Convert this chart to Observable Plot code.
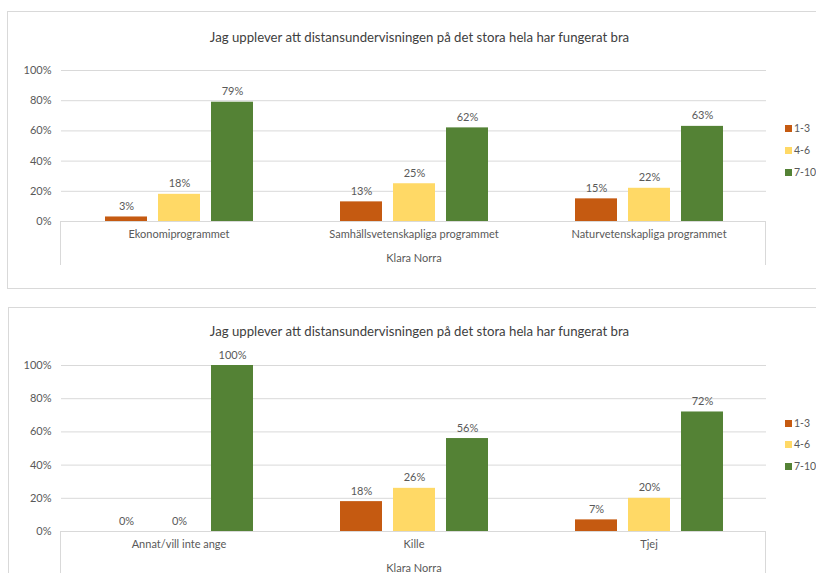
<!DOCTYPE html>
<html><head><meta charset="utf-8">
<script src="https://cdn.jsdelivr.net/npm/d3@7"></script>
<script src="https://cdn.jsdelivr.net/npm/@observablehq/plot@0.6"></script>
<style>
body{margin:0;width:816px;height:573px;overflow:hidden;background:#fff;font-family:Lato,"Open Sans",sans-serif;position:relative}
.box{position:absolute;border:1px solid #d9d9d9;box-sizing:border-box}
.title{position:absolute;left:0;width:839px;text-align:center;font-size:13.2px;color:#404040;line-height:16px}
.chart{position:absolute;left:0}
.catframe{position:absolute;left:60px;width:706px;border:1px solid #d9d9d9;border-bottom:none;box-sizing:border-box}
.legend{position:absolute;left:785px;font-size:10.5px;color:#595959}
.legend .row{position:absolute;left:0;white-space:nowrap;display:flex;align-items:center;height:14px}
.legend .sw{width:7px;height:7px;margin-right:2px}
</style></head>
<body>
<script>
const title = "Jag upplever att distansundervisningen på det stora hela har fungerat bra";
const groupLabel = "Klara Norra";
const series = ["1-3", "4-6", "7-10"];
const colors = ["#C55A11", "#FFD966", "#548235"];
const yTicks = [0, 20, 40, 60, 80, 100];

const programCats = ["Ekonomiprogrammet", "Samhällsvetenskapliga programmet", "Naturvetenskapliga programmet"];
const programLow = [3, 13, 15];
const programMid = [18, 25, 22];
const programHigh = [79, 62, 63];

const genderCats = ["Annat/vill inte ange", "Kille", "Tjej"];
const genderLow = [0, 18, 7];
const genderMid = [0, 26, 20];
const genderHigh = [100, 56, 72];

function add(el){document.body.appendChild(el);return el;}
function div(cls, css){const d=document.createElement("div");d.className=cls;Object.assign(d.style,css);return add(d);}

function makeChart(cats, low, mid, high, L){
  const vals = [low, mid, high];
  const data = [];
  cats.forEach((c, i) => series.forEach((s, j) => data.push({cat: c, series: s, value: vals[j][i]})));

  div("box", {left: L.boxLeft+"px", top: L.boxTop+"px", width: "840px", height: L.boxHeight+"px"});
  const t = div("title", {top: (L.titleY-8)+"px"}); t.textContent = title;
  div("catframe", {top: L.axisY+"px", height: L.frameH+"px"});

  const plot = Plot.plot({
    width: 816,
    height: L.height,
    marginLeft: 60, marginRight: 50,
    marginTop: L.marginTop, marginBottom: L.height - L.marginTop - L.plotH,
    style: {fontFamily: "Lato, sans-serif", fontSize: "11px", color: "#595959", background: "transparent", overflow: "visible"},
    fx: {domain: cats, padding: 0},
    x: {domain: series, paddingInner: 0.21, paddingOuter: 0.8, axis: null},
    y: {domain: [0, 100]},
    color: {domain: series, range: colors},
    marks: [
      Plot.gridY(yTicks, {stroke: "#d9d9d9", strokeOpacity: 1}),
      Plot.axisY(yTicks, {tickSize: 0, tickPadding: 10, tickFormat: d => d + "%", label: null}),
      Plot.barY(data, {fx: "cat", x: "series", y: "value", fill: "series"}),
      Plot.text(data, {fx: "cat", x: "series", y: "value", text: d => d.value + "%", dy: -7, lineAnchor: "bottom", fill: "#595959"}),
      Plot.axisFx({anchor: "bottom", tickSize: 0, tickPadding: 9, label: groupLabel, labelAnchor: "center", labelOffset: 40, labelArrow: false})
    ]
  });
  plot.classList.add("chart");
  plot.style.top = L.svgTop + "px";
  add(plot);

  const lg = div("legend", {top: "0px"});
  series.forEach((s, j) => {
    const r = document.createElement("div");
    r.className = "row";
    r.style.top = (L.legendY[j] - 7) + "px";
    const sw = document.createElement("div");
    sw.className = "sw"; sw.style.background = colors[j];
    const tx = document.createElement("span"); tx.textContent = s;
    r.appendChild(sw); r.appendChild(tx); lg.appendChild(r);
  });
}

makeChart(programCats, programLow, programMid, programHigh, {
  boxLeft: 7, boxTop: 11, boxHeight: 278, titleY: 37,
  svgTop: 0, height: 273, marginTop: 70, plotH: 151,
  axisY: 221, frameH: 44, legendY: [128, 150, 172]
});
makeChart(genderCats, genderLow, genderMid, genderHigh, {
  boxLeft: 8, boxTop: 307, boxHeight: 300, titleY: 331,
  svgTop: 290, height: 290, marginTop: 75, plotH: 166,
  axisY: 531, frameH: 60, legendY: [423, 444, 466]
});
</script>
</body></html>
